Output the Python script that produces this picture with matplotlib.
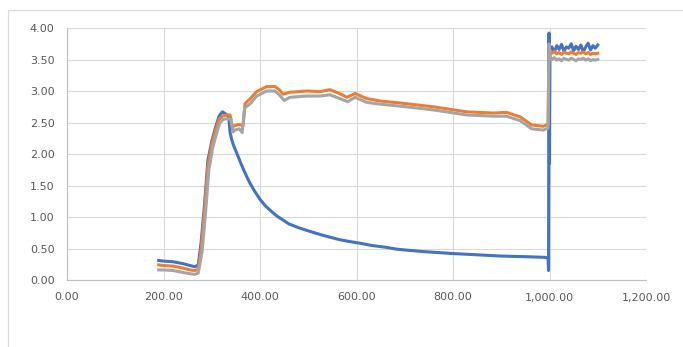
import numpy as np
import matplotlib.pyplot as plt
from matplotlib.patches import Rectangle
from matplotlib.ticker import FuncFormatter, MultipleLocator

# ── data ────────────────────────────────────────────────────
blue_x = [190, 200, 220, 240, 255, 265, 272, 278, 285, 292, 300, 307, 315, 322,
          330, 335, 338, 341, 345, 352, 360, 366, 372, 379, 388, 400, 412, 425,
          436, 448, 460, 480, 500, 517, 535, 550, 565, 586, 610, 630, 660,
          683, 710, 740, 770, 800, 850, 900, 950, 990, 997, 998, 999, 1000,
          1001, 1005, 1010, 1015, 1020, 1025, 1030, 1035, 1040, 1045, 1050,
          1055, 1060, 1065, 1070, 1075, 1080, 1085, 1090, 1095, 1100]
blue_y = [0.31, 0.30, 0.29, 0.26, 0.23, 0.21, 0.24, 0.60, 1.20, 1.90, 2.20, 2.40, 2.60, 2.67,
          2.63, 2.60, 2.34, 2.24, 2.14, 2.01, 1.86, 1.75, 1.65, 1.54, 1.42, 1.28, 1.17, 1.08,
          1.01, 0.95, 0.89, 0.83, 0.78, 0.74, 0.70, 0.67, 0.64, 0.61, 0.58, 0.55, 0.52,
          0.49, 0.47, 0.45, 0.435, 0.42, 0.40, 0.38, 0.37, 0.36, 0.35, 0.15, 3.92, 1.85,
          3.66, 3.70, 3.62, 3.72, 3.66, 3.74, 3.63, 3.70, 3.68, 3.75, 3.64,
          3.71, 3.66, 3.73, 3.62, 3.70, 3.76, 3.65, 3.72, 3.68, 3.73]

orange_x = [190, 200, 220, 240, 255, 265, 272, 278, 285, 292, 300, 307, 315, 322,
            330, 338, 342, 345, 355, 365, 369, 380, 393, 414, 431, 440, 448, 462,
            497, 524, 545, 565, 580, 597, 621, 650, 690, 759, 828, 883, 911, 939,
            963, 987, 997, 999,
            1001, 1005, 1010, 1015, 1020, 1025, 1030, 1035, 1040, 1045, 1050,
            1055, 1060, 1065, 1070, 1075, 1080, 1085, 1090, 1095, 1100]
orange_y = [0.24, 0.23, 0.22, 0.19, 0.16, 0.15, 0.17, 0.50, 1.10, 1.80, 2.15, 2.35, 2.55, 2.60,
            2.62, 2.62, 2.45, 2.44, 2.47, 2.45, 2.80, 2.88, 2.99, 3.07, 3.07, 3.02, 2.95, 2.98,
            3.00, 2.99, 3.02, 2.96, 2.90, 2.96, 2.88, 2.84, 2.81, 2.75, 2.67, 2.65, 2.66, 2.59,
            2.46, 2.44, 2.47, 3.66,
            3.62, 3.60, 3.63, 3.59, 3.61, 3.58, 3.62, 3.60, 3.59, 3.62, 3.60,
            3.58, 3.61, 3.60, 3.62, 3.59, 3.61, 3.58, 3.60, 3.59, 3.60]

gray_x = [190, 200, 220, 240, 255, 265, 272, 280, 287, 294, 302, 309, 317, 324,
          332, 340, 344, 348, 357, 363, 368, 380, 393, 414, 431, 440, 450, 462,
          497, 524, 545, 565, 582, 597, 621, 650, 690, 759, 828, 883, 911, 939,
          963, 987, 997, 999,
          1001, 1005, 1010, 1015, 1020, 1025, 1030, 1035, 1040, 1045, 1050,
          1055, 1060, 1065, 1070, 1075, 1080, 1085, 1090, 1095, 1100]
gray_y = [0.16, 0.16, 0.15, 0.12, 0.10, 0.09, 0.11, 0.45, 1.05, 1.75, 2.10, 2.30, 2.50, 2.55,
          2.56, 2.55, 2.35, 2.38, 2.40, 2.34, 2.73, 2.80, 2.92, 3.00, 3.00, 2.94, 2.85, 2.90,
          2.92, 2.92, 2.94, 2.88, 2.83, 2.90, 2.82, 2.79, 2.76, 2.70, 2.62, 2.60, 2.60, 2.53,
          2.40, 2.38, 2.41, 3.75,
          3.52, 3.50, 3.53, 3.49, 3.51, 3.48, 3.52, 3.50, 3.49, 3.52, 3.50,
          3.48, 3.51, 3.50, 3.52, 3.49, 3.51, 3.48, 3.50, 3.49, 3.50]

# ── figure ───────────────────────────────────────────────────
W, H = 683, 347
fig = plt.figure(figsize=(W / 100, H / 100), dpi=100)
fig.patch.set_facecolor('white')

# chart border (Excel chart area)
fig.patches.append(Rectangle((8 / W, -0.05), 1.0, 1 - 10 / H + 0.05,
                             transform=fig.transFigure, fill=False,
                             edgecolor='#d9d9d9', linewidth=0.8))

ax = fig.add_axes([67 / W, 1 - 280 / H, (646 - 67) / W, (280 - 28) / H])

GRID = '#d9d9d9'
ax.plot(blue_x, blue_y, color='#4472C4', lw=2.2, solid_joinstyle='round')
ax.plot(orange_x, orange_y, color='#ED7D31', lw=2.2, solid_joinstyle='round')
ax.plot(gray_x, gray_y, color='#A5A5A5', lw=2.2, solid_joinstyle='round')

ax.set_xlim(0, 1200)
ax.set_ylim(0, 4)
ax.xaxis.set_major_locator(MultipleLocator(200))
ax.yaxis.set_major_locator(MultipleLocator(0.5))
ax.xaxis.set_major_formatter(FuncFormatter(lambda v, p: f'{v:,.2f}'))
ax.yaxis.set_major_formatter(FuncFormatter(lambda v, p: f'{v:,.2f}'))
ax.grid(True, color=GRID, lw=0.8)
ax.set_axisbelow(True)

for side in ['top', 'right']:
    ax.spines[side].set_visible(False)
for side in ['left', 'bottom']:
    ax.spines[side].set_color('#bfbfbf')
    ax.spines[side].set_linewidth(0.8)

ax.tick_params(length=0, labelsize=8, labelcolor='#595959', pad=9)

plt.savefig('out.png', dpi=100, facecolor='white')
